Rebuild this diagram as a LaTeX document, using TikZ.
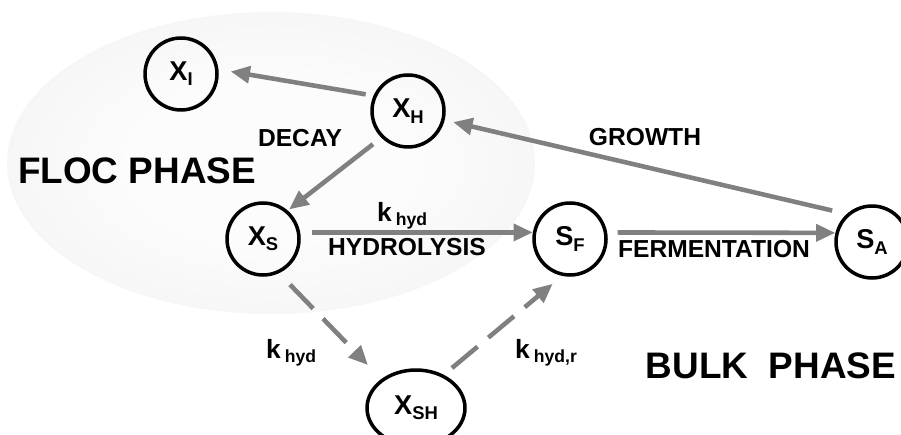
\documentclass[tikz,border=0pt]{standalone}
\usepackage{fontspec}
\setmainfont{Liberation Sans}
\usetikzlibrary{arrows.meta,shapes.geometric}
\colorlet{flowgray}{black!50}
\colorlet{flocin}{black!1}
\colorlet{flocout}{black!8}
\pgfdeclareradialshading{flocshade}{\pgfpoint{0bp}{0bp}}{color(0bp)=(flocin); color(12bp)=(flocin); color(50bp)=(flocout)}
\newcommand{\varsub}[2]{#1\raisebox{-3pt}{\fontsize{10.5}{10.5}\selectfont #2}}
\newcommand{\krate}[1]{{\fontsize{15}{15}\selectfont k}\,\raisebox{-2.5pt}{\fontsize{10}{10}\selectfont #1}}

\begin{document}
\begin{tikzpicture}[x=0.02cm, y=-0.02cm, font=\bfseries\fontsize{14}{15}\selectfont,
    state/.style={circle, draw=black, line width=2pt, minimum size=1.44cm, inner sep=0pt,
                  font=\bfseries\fontsize{15.5}{16}\selectfont},
    flow/.style={draw=flowgray, line width=2.6pt, -{Triangle[length=11pt,width=9.5pt]}},
    slowflow/.style={flow, dash pattern=on 19pt off 8pt},
    phase/.style={font=\bfseries\fontsize{21}{22}\selectfont}]
    \useasboundingbox (0,0) rectangle (901,435);

    % floc
    \shade[shading=flocshade] (271,163) ellipse [x radius=264, y radius=151];

    \node[state] (xi) at (181,74) {\varsub{X}{I}};
    \node[state] (xh) at (408,111) {\varsub{X}{H}};
    \node[state] (xs) at (263,239) {\varsub{X}{S}};
    \node[state] (sf) at (570,239) {\varsub{S}{F}};
    \node[state] (sa) at (872,242) {\varsub{S}{A}};
    \node[state, ellipse, minimum width=1.96cm, minimum height=1.52cm] (xsh) at (416,408) {\varsub{X}{SH}};

    \node[phase] (floc) at (137,171) {FLOC PHASE};
    \node[phase] (bulk) at (771,366) {BULK~~PHASE};

    \node (decay) at (300,138) {DECAY};
    \node (growth) at (645,137) {GROWTH};
    \node (khyd) at (402,216) {\krate{hyd}};
    \node (hydro) at (407,247) {HYDROLYSIS};
    \node (ferm) at (714,249) {FERMENTATION};
    \node (khydl) at (291,353) {\krate{hyd}};
    \node (khydr) at (546,353) {\krate{hyd,r}};

    \draw[flow, shorten <=4.5pt, shorten >=7pt] (xh.156) -- (xi.7);
    \draw[flow, shorten <=6pt, shorten >=1pt] (xh.225) -- (xs.49);
    \draw[flow, shorten <=8.5pt, shorten >=5pt] (sa.132) -- (xh.-14);
    \draw[flow, shorten <=7pt] (xs.10) -- (sf.170);
    \draw[flow, shorten <=6pt] (sf.10) -- (sa.166);
    \draw[slowflow, shorten <=9pt, shorten >=11pt] (xs.-65) -- (xsh.140);
    \draw[slowflow, shorten <=6pt, shorten >=7pt] (xsh.50) -- (sf.258);
\end{tikzpicture}
\end{document}
